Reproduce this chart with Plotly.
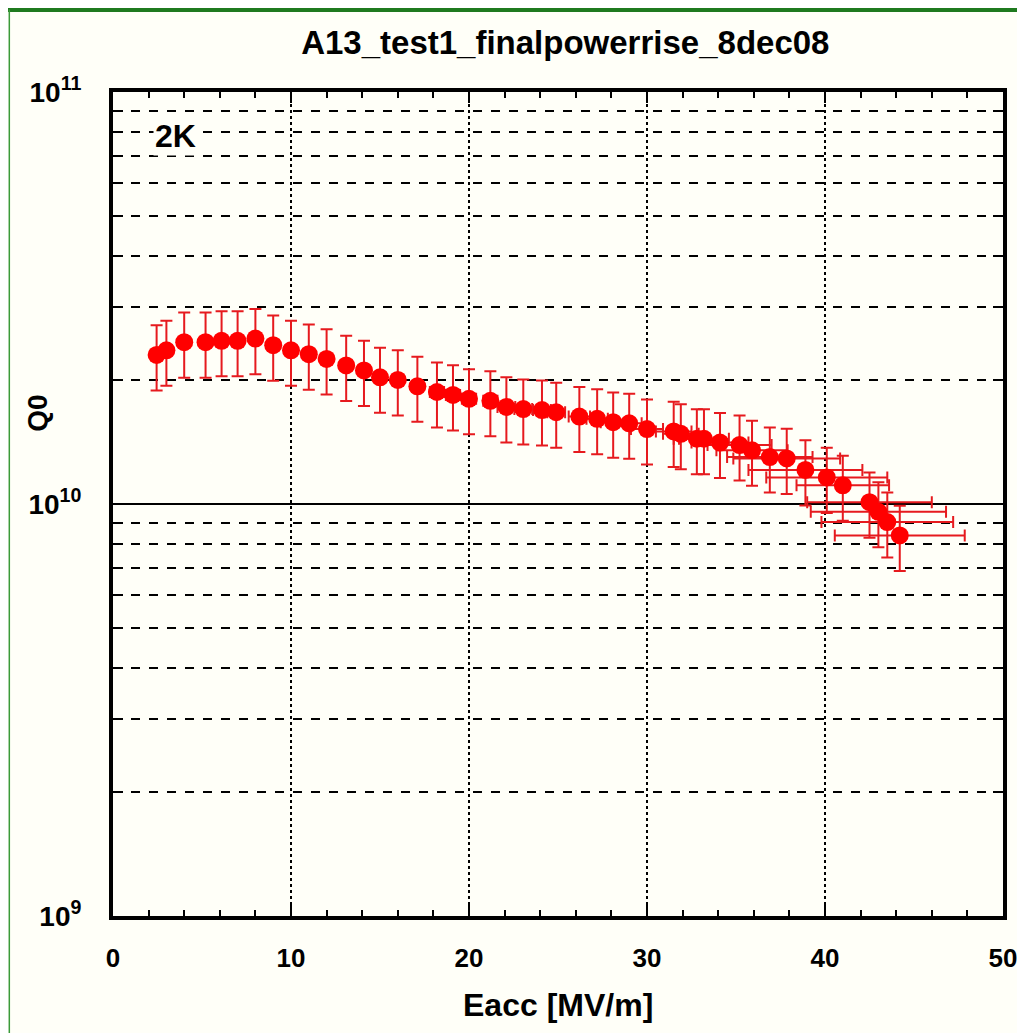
import plotly.graph_objects as go

# Q0 vs Eacc, 2K
eacc = [2.45, 3.0, 4.0, 5.2, 6.1, 7.0, 8.0, 9.0, 10.0, 11.0,
        12.0, 13.1, 14.1, 15.0, 16.0, 17.1, 18.2, 19.1, 20.0, 21.2,
        22.1, 23.05, 24.1, 24.9, 26.2, 27.2, 28.1, 29.0, 30.0, 31.5,
        31.9, 32.8, 33.2, 34.1, 35.2, 35.9, 36.9, 37.85, 38.9, 40.1,
        41.0, 42.5, 43.0, 43.5, 44.2]
q0 = [2.30e10, 2.36e10, 2.47e10, 2.47e10, 2.49e10, 2.49e10, 2.52e10, 2.43e10, 2.36e10, 2.31e10,
      2.25e10, 2.17e10, 2.11e10, 2.03e10, 2.00e10, 1.93e10, 1.87e10, 1.84e10, 1.80e10, 1.78e10,
      1.72e10, 1.70e10, 1.69e10, 1.67e10, 1.63e10, 1.61e10, 1.58e10, 1.57e10, 1.52e10, 1.50e10,
      1.48e10, 1.44e10, 1.44e10, 1.41e10, 1.39e10, 1.35e10, 1.30e10, 1.29e10, 1.21e10, 1.16e10,
      1.11e10, 1.01e10, 0.957e10, 0.904e10, 0.839e10]
eacc_err = [0.3, 0.3, 0.3, 0.3, 0.3, 0.3, 0.3, 0.3, 0.3, 0.3,
            0.3, 0.3, 0.3, 0.3, 0.3, 0.3, 0.4, 0.4, 0.4, 0.4,
            0.5, 0.5, 0.5, 0.5, 0.6, 0.6, 0.7, 0.7, 0.9, 1.0,
            1.0, 1.3, 1.4, 1.6, 1.8, 2.0, 2.4, 3.0, 3.2, 3.4,
            2.6, 3.5, 3.8, 3.7, 3.65]
q0_err_pct = 18

x_ticks = [0, 10, 20, 30, 40, 50]
y_ticks = [1e9, 1e10, 1e11]
y_ticktext = ["<b>10<sup>9</sup></b>", "<b>10<sup>10</sup></b>", "<b>10<sup>11</sup></b>"]
minor_y = [2e9, 3e9, 4e9, 5e9, 6e9, 7e9, 8e9, 9e9,
           2e10, 3e10, 4e10, 5e10, 6e10, 7e10, 8e10, 9e10]

FONT = "Liberation Sans, Arial, sans-serif"
BG = "#fffff8"

fig = go.Figure()
fig.add_trace(go.Scatter(
    x=eacc, y=q0, mode="markers",
    marker=dict(color="#ff0000", size=18),
    error_y=dict(type="percent", value=q0_err_pct, color="#e61a1e", thickness=2, width=6),
    error_x=dict(type="data", array=eacc_err, color="#e61a1e", thickness=2, width=6),
    showlegend=False,
))

# the page body adds 8px around the figure, margins are set for that
fig.update_layout(
    width=1017, height=1025,
    margin=dict(l=105, r=22, t=84, b=117, autoexpand=False),
    paper_bgcolor=BG, plot_bgcolor=BG,
    font=dict(family=FONT, color="black"),
    title=dict(text="<b>A13_test1_finalpowerrise_8dec08</b>", x=0.548, xanchor="center",
               y=0.966, yanchor="middle", font=dict(size=33)),
)

fig.update_xaxes(
    range=[0, 50], tickvals=x_ticks, ticktext=["<b>%d</b>" % v for v in x_ticks],
    ticks="inside", ticklen=11, tickwidth=2, tickcolor="black",
    showline=True, linewidth=4, linecolor="black", mirror="ticks",
    showgrid=True, gridcolor="black", griddash="dot", gridwidth=1.5,
    zeroline=False, automargin=False,
    minor=dict(dtick=2, ticks="inside", ticklen=6, tickwidth=1.5, tickcolor="black", showgrid=False),
    tickfont=dict(size=26), ticklabelstandoff=16,
)

fig.update_yaxes(
    type="log", range=[9, 11], tickvals=y_ticks, ticktext=y_ticktext,
    ticks="", showline=True, linewidth=4, linecolor="black", mirror="ticks",
    showgrid=True, gridcolor="black", gridwidth=1.5, automargin=False,
    minor=dict(tickvals=minor_y, ticks="inside", ticklen=10, tickwidth=2, tickcolor="black",
               showgrid=True, gridcolor="black", griddash="dash", gridwidth=1.5),
    tickfont=dict(size=28), ticklabelstandoff=22,
)

# axis titles
fig.add_annotation(text="<b>Eacc [MV/m]</b>", xref="paper", yref="paper", x=0.5, y=-0.108,
                   xanchor="center", yanchor="middle", showarrow=False, font=dict(size=32))
fig.add_annotation(text="<b>Q0</b>", xref="paper", yref="paper", x=-0.085, y=0.61,
                   xanchor="center", yanchor="middle", textangle=-90, showarrow=False,
                   font=dict(size=28))
fig.add_annotation(text="<b>2K</b>", xref="paper", yref="paper", x=0.07, y=0.947,
                   xanchor="center", yanchor="middle", showarrow=False,
                   font=dict(size=32), bgcolor=BG)

# green frame of the page
fig.add_shape(type="line", xref="paper", yref="paper", x0=-0.12, x1=1.03, y0=1.0995, y1=1.0995,
              line=dict(color="#1f7a1f", width=4))
fig.add_shape(type="line", xref="paper", yref="paper", x0=-0.1165, x1=-0.1165, y0=-0.15, y1=1.1,
              line=dict(color="#3a9a3a", width=1.5))

fig.write_html("out.html")
